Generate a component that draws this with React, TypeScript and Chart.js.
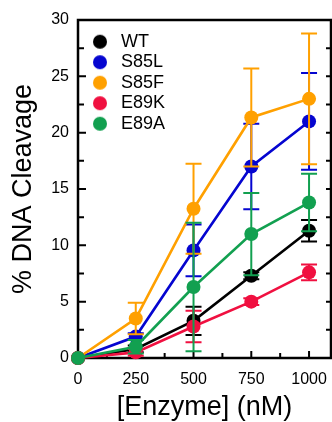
import React, { useEffect, useRef } from 'react';
import { Chart, registerables } from 'chart.js';

Chart.register(...registerables);

// ---- data ----
const concentrations = [0, 250, 500, 750, 1000];
const xTickValues = [0, 250, 500, 750, 1000];
const yTickStep = 5;

const seriesLabels = ['WT', 'S85L', 'S85F', 'E89K', 'E89A'];

const wtValues = [0, 0.8, 3.3, 7.3, 11.3];
const wtErrors = [0, 0.3, 1.25, 0.3, 0.95];

const s85lValues = [0, 1.9, 9.55, 17.0, 21.0];
const s85lErrors = [0, 0.3, 2.3, 3.8, 4.3];

const s85fValues = [0, 3.5, 13.25, 21.35, 23.0];
const s85fErrors = [0, 1.4, 4.0, 4.35, 5.8];

const e89kValues = [0, 0.5, 2.8, 5.0, 7.6];
const e89kErrors = [0, 0.3, 1.4, 0.3, 0.7];

const e89aValues = [0, 1.0, 6.3, 11.0, 13.8];
const e89aErrors = [0, 0.6, 5.7, 3.65, 2.55];

const seriesValues = [wtValues, s85lValues, s85fValues, e89kValues, e89aValues];
const seriesErrors = [wtErrors, s85lErrors, s85fErrors, e89kErrors, e89aErrors];

// ---- styles ----
const seriesColors = ['#000000', '#0505d0', '#ffa000', '#f01040', '#12a050'];
const FONT = "'Liberation Sans', Arial, Helvetica, sans-serif";

function makeDot(color: string): HTMLCanvasElement {
  const c = document.createElement('canvas');
  c.width = 16;
  c.height = 16;
  const g = c.getContext('2d')!;
  g.fillStyle = color;
  g.beginPath();
  g.arc(8, 8, 7, 0, Math.PI * 2);
  g.fill();
  return c;
}

const errorBarPlugin = {
  id: 'errorBars',
  beforeDatasetDraw(chart: any, args: any) {
    const ds = chart.data.datasets[args.index];
    const errs: number[] = ds.errors;
    if (!errs) return;
    const { ctx } = chart;
    const xs = chart.scales.x;
    const ys = chart.scales.y;
    ctx.save();
    ctx.strokeStyle = ds.borderColor;
    ctx.lineWidth = 2;
    ctx.beginPath();
    ds.data.forEach((p: any, i: number) => {
      const e = errs[i];
      if (!e) return;
      const px = xs.getPixelForValue(p.x);
      const top = ys.getPixelForValue(p.y + e);
      const bot = ys.getPixelForValue(p.y - e);
      ctx.moveTo(px, top);
      ctx.lineTo(px, bot);
      ctx.moveTo(px - 8, top);
      ctx.lineTo(px + 8, top);
      ctx.moveTo(px - 8, bot);
      ctx.lineTo(px + 8, bot);
    });
    ctx.stroke();
    ctx.restore();
  },
};

const framePlugin = {
  id: 'frame',
  beforeDatasetsDraw(chart: any) {
    const { ctx, chartArea: a } = chart;
    const xs = chart.scales.x;
    const ys = chart.scales.y;
    ctx.save();
    ctx.strokeStyle = '#000';
    ctx.lineWidth = 2;
    ctx.beginPath();
    for (let v = ys.min; v <= ys.max + 1e-9; v += yTickStep / 2) {
      const py = ys.getPixelForValue(v);
      const major = Math.abs(v % yTickStep) < 1e-9;
      ctx.moveTo(a.left, py);
      ctx.lineTo(a.left + (major ? 8 : 6), py);
      ctx.moveTo(a.right, py);
      ctx.lineTo(a.right - 5, py);
    }
    const xStep = xTickValues[1] - xTickValues[0];
    for (let v = 0; v <= xTickValues[xTickValues.length - 1]; v += xStep / 2) {
      const px = xs.getPixelForValue(v);
      const major = Math.abs(v % xStep) < 1e-9;
      ctx.moveTo(px, a.bottom);
      ctx.lineTo(px, a.bottom - (major ? 7 : 5));
    }
    ctx.stroke();
    ctx.lineWidth = 2.5;
    ctx.strokeRect(a.left, a.top, a.right - a.left, a.bottom - a.top);
    ctx.restore();
  },
};

const legendPlacePlugin = {
  id: 'legendPlace',
  afterLayout(chart: any) {
    const lg = chart.legend;
    if (!lg) return;
    const a = chart.chartArea;
    lg.left = a.left + 7.5;
    lg.top = a.top + 10.2;
    lg.right = lg.left + lg.width;
    lg.bottom = lg.top + lg.height;
  },
};

export default function App() {
  const ref = useRef<HTMLCanvasElement>(null);

  useEffect(() => {
    if (!ref.current) return;
    Chart.defaults.font.family = FONT;
    Chart.defaults.color = '#000';

    const datasets = seriesLabels.map((label, i) => ({
      label,
      data: concentrations.map((x, j) => ({ x, y: seriesValues[i][j] })),
      errors: seriesErrors[i],
      borderColor: seriesColors[i],
      backgroundColor: seriesColors[i],
      pointBackgroundColor: seriesColors[i],
      pointBorderColor: seriesColors[i],
      pointBorderWidth: 0,
      pointRadius: 7,
      borderWidth: 2.6,
      tension: 0,
      clip: false,
      order: seriesLabels.length - 1 - i,
    }));

    const chart = new Chart(ref.current, {
      type: 'line',
      data: { datasets: datasets as any },
      options: {
        animation: false,
        responsive: false,
        layout: { autoPadding: false, padding: { left: 0, top: 20, right: 1, bottom: 0 } },
        plugins: {
          tooltip: { enabled: false },
          legend: {
            display: true,
            position: 'chartArea' as any,
            align: 'start',
            labels: {
              usePointStyle: true,
              pointStyleWidth: 24,
              padding: 2.5,
              color: '#000',
              font: { size: 18, family: FONT },
              generateLabels: (c: any) =>
                c.data.datasets.map((ds: any, i: number) => ({
                  text: ds.label,
                  fillStyle: ds.backgroundColor,
                  strokeStyle: ds.backgroundColor,
                  lineWidth: 0,
                  pointStyle: makeDot(ds.backgroundColor),
                  hidden: false,
                  datasetIndex: i,
                  fontColor: '#000',
                })),
            },
          },
        },
        scales: {
          x: {
            type: 'linear',
            min: 0,
            max: 1095,
            grid: { display: false, drawTicks: false },
            border: { display: false },
            afterBuildTicks: (s: any) => {
              s.ticks = xTickValues.map((v) => ({ value: v }));
            },
            afterFit: (s: any) => {
              s.height = 64;
              s.paddingLeft = 0;
              s.paddingRight = 0;
            },
            ticks: {
              padding: 12,
              color: '#000',
              font: { size: 16, family: FONT },
              callback: (v: any) => String(v),
            },
            title: {
              display: true,
              text: '[Enzyme] (nM)',
              color: '#000',
              font: { size: 27, family: FONT },
              padding: { top: 0, bottom: -2 },
            },
          },
          y: {
            type: 'linear',
            min: 0,
            max: 30,
            grid: { display: false, drawTicks: false },
            border: { display: false },
            afterFit: (s: any) => {
              s.width = 78;
            },
            ticks: {
              stepSize: yTickStep,
              padding: 9,
              color: '#000',
              font: { size: 16, family: FONT },
            },
            title: {
              display: true,
              text: '% DNA Cleavage',
              color: '#000',
              font: { size: 27, family: FONT },
              padding: { top: 7, bottom: 0 },
            },
          },
        },
      },
      plugins: [framePlugin, errorBarPlugin, legendPlacePlugin],
    });

    return () => chart.destroy();
  }, []);

  return (
    <div style={{ position: 'fixed', left: 0, top: 0, width: 332, height: 422, background: '#fff' }}>
      <canvas ref={ref} width={332} height={422} style={{ display: 'block' }} />
    </div>
  );
}
